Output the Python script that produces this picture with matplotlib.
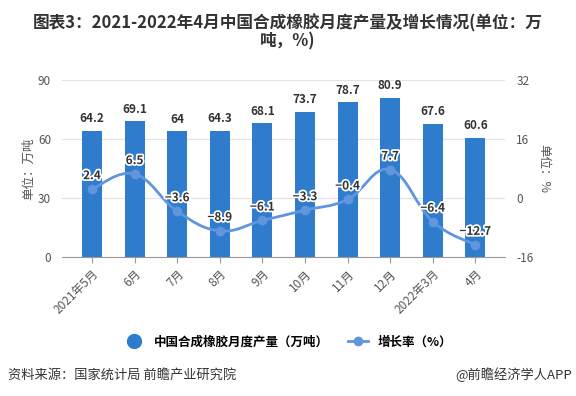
import numpy as np
import matplotlib
matplotlib.use("Agg")
import matplotlib.pyplot as plt
import matplotlib.patheffects as pe
from matplotlib.path import Path
from matplotlib.patches import PathPatch
from matplotlib.lines import Line2D

plt.rcParams['font.family'] = ['Noto Sans CJK SC', 'DejaVu Sans']
plt.rcParams['axes.unicode_minus'] = False

months = ["2021年5月", "6月", "7月", "8月", "9月", "10月", "11月", "12月", "2022年3月", "4月"]
output = [64.2, 69.1, 64, 64.3, 68.1, 73.7, 78.7, 80.9, 67.6, 60.6]
growth = [2.4, 6.5, -3.6, -8.9, -6.1, -3.3, -0.4, 7.7, -6.4, -12.7]

BAR_COLOR = "#2f7ccd"
LINE_COLOR = "#6195de"
TICK_COLOR = "#555555"


def smoothPath(xs, ys, k=0.2):
    # cubic bezier through the points, control points from neighbours
    pts = np.column_stack([xs, ys]).astype(float)
    verts = [pts[0]]
    codes = [Path.MOVETO]
    n = len(pts)
    for i in range(n - 1):
        p0 = pts[i - 1] if i > 0 else pts[i]
        p1 = pts[i]
        p2 = pts[i + 1]
        p3 = pts[i + 2] if i + 2 < n else pts[i + 1]
        c1 = p1 + (p2 - p0) * k
        c2 = p2 - (p3 - p1) * k
        verts += [c1, c2, p2]
        codes += [Path.CURVE4] * 3
    return Path(verts, codes)


def main():
    fig = plt.figure(figsize=(5.76, 3.96), dpi=100)
    ax = fig.add_axes([0.108, 0.351, 0.769, 0.447])
    x = np.arange(len(months))

    ax.bar(x, output, width=0.47, color=BAR_COLOR, zorder=2)
    for xi, v in zip(x, output):
        ax.annotate(f"{v:g}", (xi, v), xytext=(0, 4), textcoords="offset points",
                    ha="center", va="bottom", fontsize=8.5, fontweight="bold", color="#333333")

    ax.set_ylim(0, 90)
    ax.set_yticks([0, 30, 60, 90])
    ax.set_xlim(-0.7, 9.7)
    ax.set_xticks(x)
    ax.set_xticklabels(months, rotation=45, ha="right", rotation_mode="anchor")
    ax.grid(True, axis="y", color="#e3e3e3", linewidth=0.8, zorder=0)
    for s in ["top", "right", "left"]:
        ax.spines[s].set_visible(False)
    ax.spines["bottom"].set_color("#999999")
    ax.tick_params(axis="x", colors=TICK_COLOR, labelsize=8.5, length=4, color="#999999")
    ax.tick_params(axis="y", colors=TICK_COLOR, labelsize=8.5, length=0, pad=8)
    ax.set_ylabel("单位：万吨", color=TICK_COLOR, fontsize=9, labelpad=2)

    ax2 = ax.twinx()
    ax2.set_ylim(-16, 32)
    ax2.set_yticks([-16, 0, 16, 32])
    for s in ["top", "right", "left", "bottom"]:
        ax2.spines[s].set_visible(False)
    ax2.tick_params(axis="y", colors=TICK_COLOR, labelsize=8.5, length=0, pad=8)
    ax2.set_ylabel("单位：%", color=TICK_COLOR, fontsize=9, rotation=-90, labelpad=12)

    ax2.add_patch(PathPatch(smoothPath(x, growth), fill=False, edgecolor=LINE_COLOR,
                            linewidth=2, zorder=3))
    ax2.plot(x, growth, "o", color=LINE_COLOR, markersize=6, zorder=4)
    for xi, v in zip(x, growth):
        ax2.annotate(f"{v:g}".replace("-", "\u2212"), (xi, v), xytext=(0, 5),
                     textcoords="offset points",
                     ha="center", va="bottom", fontsize=8.5, fontweight="bold", color="#333333",
                     zorder=5, path_effects=[pe.withStroke(linewidth=2.5, foreground="white")])

    fig.text(0.5, 0.918, "图表3：2021-2022年4月中国合成橡胶月度产量及增长情况(单位：万\n吨，%)",
             ha="center", va="center", fontsize=12, fontweight="bold", color="#333333",
             linespacing=1.0)

    handles = [
        Line2D([], [], linestyle="none", marker="o", markersize=10, color=BAR_COLOR),
        Line2D([], [], color=LINE_COLOR, linewidth=2, marker="o", markersize=6),
    ]
    fig.legend(handles, ["中国合成橡胶月度产量（万吨）", "增长率（%）"], loc="center",
               bbox_to_anchor=(0.5, 0.136), ncol=2, frameon=False,
               handlelength=1.6, columnspacing=1.5, prop={"weight": "bold", "size": 9})

    fig.text(0.014, 0.053, "资料来源：国家统计局 前瞻产业研究院", ha="left", va="center",
             fontsize=9.5, color="#333333")
    fig.text(0.993, 0.053, "@前瞻经济学人APP", ha="right", va="center",
             fontsize=9.5, color="#333333")

    plt.savefig("out.png", dpi=100)


if __name__ == "__main__":
    main()
